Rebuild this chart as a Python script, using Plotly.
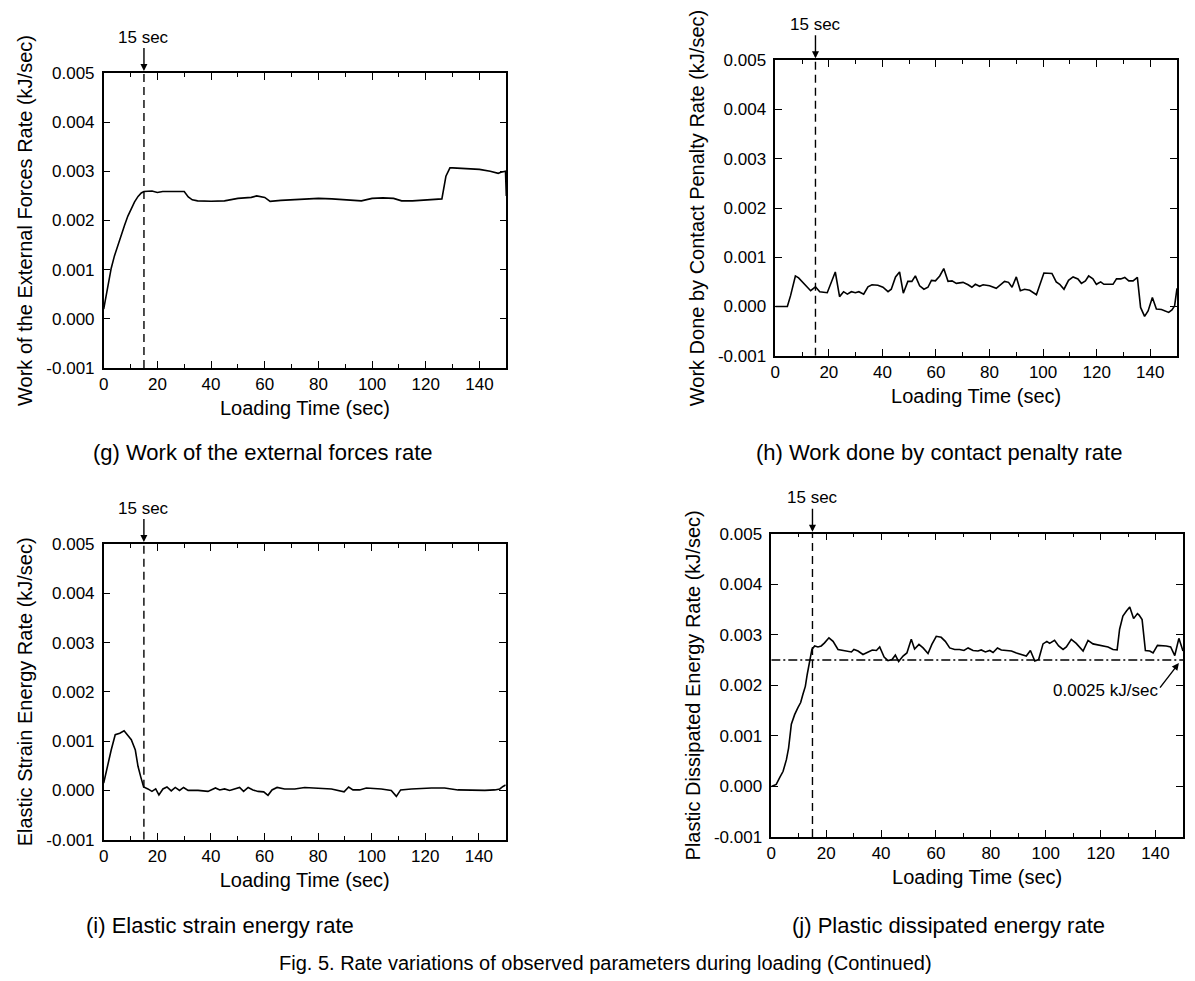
import plotly.graph_objects as go

# ---------------- data ----------------
t_g = [0, 1, 2.8, 4, 5.3, 6.5, 7.8, 9, 10.3, 11.5, 12.8, 14, 15, 18, 20, 22, 26, 30,
       31.5, 33, 35, 40, 45, 50, 55, 57, 60, 62, 66, 70, 75, 80, 85, 90, 96, 100,
       104, 108, 110, 111, 115, 120, 126, 127.5, 129, 130, 135, 140, 144, 147, 148,
       149.3, 149.7, 150]
rate_g = [0.0002, 0.0005, 0.00103, 0.00128, 0.00151, 0.00172, 0.00191, 0.00209,
          0.00225, 0.00238, 0.00249, 0.00256, 0.00259, 0.0026, 0.00257, 0.00259,
          0.00259, 0.00259, 0.00248, 0.00242, 0.0024, 0.00239, 0.0024, 0.00245,
          0.00247, 0.0025, 0.00247, 0.00239, 0.00241, 0.00242, 0.00243, 0.00245,
          0.00244, 0.00242, 0.0024, 0.00245, 0.00246, 0.00245, 0.00242, 0.0024,
          0.0024, 0.00242, 0.00244, 0.0029, 0.00307, 0.00307, 0.00306, 0.00304,
          0.003, 0.00296, 0.00298, 0.003, 0.003, 0.0025]

t_h = [0, 4.5, 5.7, 7.5, 8.7, 11, 13.2, 15, 16.6, 19.4, 21, 22.4, 24, 25.5, 26.9,
       28.4, 29.9, 31.2, 33, 34.6, 36.1, 38.3, 40.2, 42.1, 43.3, 44.9, 46.4, 47.8,
       49.5, 51, 52.3, 53.9, 55.5, 57, 58.3, 59.8, 61.4, 62.9, 64.5, 66, 67.6, 70.1,
       72, 73.4, 74.7, 76.3, 77.6, 80, 82.5, 85.6, 87.1, 88.4, 90, 91.5, 93.1, 95,
       97.5, 98.7, 100.3, 103.3, 104.9, 106.2, 107.8, 109.5, 111.2, 113, 114.3,
       115.8, 117, 118.6, 119.9, 121.5, 122.7, 126.1, 127.4, 129, 130.5, 132, 133.6,
       135.2, 136.4, 137.9, 139.2, 140.8, 142.3, 144.2, 146.9, 148.1, 149.1, 150]
rate_h = [0.0, 0.0, 0.00022, 0.00062, 0.00058, 0.00045, 0.00032, 0.0004, 0.0003,
          0.00028, 0.00052, 0.0007, 0.0002, 0.0003, 0.00025, 0.0003, 0.00028, 0.0003,
          0.00025, 0.0004, 0.00044, 0.00043, 0.00039, 0.0003, 0.00035, 0.0006, 0.0007,
          0.00027, 0.00051, 0.00051, 0.00062, 0.00042, 0.00035, 0.00039, 0.00053,
          0.00052, 0.00062, 0.00077, 0.00051, 0.00052, 0.00047, 0.00049, 0.00044,
          0.00039, 0.00045, 0.00041, 0.00044, 0.00042, 0.00037, 0.00051, 0.00049,
          0.00039, 0.0006, 0.00032, 0.00035, 0.00033, 0.00024, 0.00045, 0.00068,
          0.00067, 0.0005, 0.00045, 0.00035, 0.00053, 0.0006, 0.00056, 0.00047,
          0.00052, 0.00062, 0.00056, 0.00045, 0.0005, 0.00045, 0.00045, 0.00056,
          0.00056, 0.00059, 0.00052, 0.00052, 0.00059, -0.00002, -0.0002, -0.00009,
          0.00018, -0.00005, -0.00006, -0.00012, -0.00007, 0.00001, 0.00037]

t_i = [0, 1.6, 2.8, 4.3, 6, 7.6, 9.1, 10.3, 11.8, 12.8, 13.8, 14.9, 16.5, 18, 19.4,
       20.6, 22.1, 23.6, 25.2, 26.7, 28.3, 29.8, 31.5, 35.2, 38.9, 41.7, 43.3, 45.1,
       47, 48.9, 50.7, 52.2, 53.9, 55.7, 57.6, 59.7, 61.3, 62.8, 64.7, 67.5, 71.3,
       75, 80, 85, 89.7, 91.4, 93, 95.5, 98, 103.6, 107.3, 109.2, 110.8, 114.8,
       122.3, 127.2, 132.2, 137.2, 142.2, 145.9, 147.8, 149, 150]
rate_i = [0.00015, 0.00055, 0.00082, 0.00113, 0.00116, 0.00121, 0.00111, 0.00103,
          0.00082, 0.00049, 0.00028, 0.00007, 0.00003, -0.00002, 0.00003, -0.00009,
          0.00003, 0.00007, -0.00001, 0.00006, 0.0, 0.00006, 0.0, 0.0, -0.00002,
          0.00005, 0.00001, 0.00003, 0.0, 0.00003, 0.00006, -0.00002, 0.00006,
          0.00001, -0.00002, -0.00003, -0.0001, 0.00001, 0.00006, 0.00003, 0.00003,
          0.00006, 0.00005, 0.00003, -0.00003, 0.00007, 0.00001, 0.00001, 0.00005,
          0.00003, 0.0, -0.00012, 0.00001, 0.00003, 0.00005, 0.00005, 0.00001, 0.0,
          0.0, 0.00001, 0.00003, 0.00008, 0.00011]

t_j = [0, 1.8, 3, 4.3, 5.5, 6.3, 7.3, 8.5, 9.7, 10.7, 11.5, 12.4, 13.1, 14, 14.8,
       15.8, 17, 18.2, 19.4, 21, 22.5, 24.3, 26.1, 27.9, 29.2, 30.1, 31.6, 33.4,
       35.2, 36.8, 38.3, 39.5, 41.1, 42.5, 44, 45.2, 46.4, 48, 49.4, 51, 52.2, 53.8,
       55.3, 57.1, 58.5, 60.1, 61.9, 63.4, 65, 66.8, 68.6, 70.2, 71.7, 73.5, 75.3,
       76.5, 78, 79.6, 80.8, 82.4, 83.8, 85.6, 87.5, 89.3, 91.1, 92.9, 94.4, 96,
       97.4, 99, 100.4, 101.4, 103.2, 104.7, 106.3, 107.5, 109.3, 111.1, 113.6,
       115.4, 117.2, 120.9, 122.7, 124.5, 126, 126.9, 128.1, 129.4, 130.6, 132,
       133.4, 134, 135.1, 136.3, 137.9, 139.1, 140.7, 143.9, 145.5, 147, 148.5, 150]
rate_j = [0.0, 0.00004, 0.00017, 0.0003, 0.00053, 0.00076, 0.00123, 0.00142, 0.00156,
          0.00166, 0.00182, 0.00198, 0.00222, 0.00249, 0.00271, 0.00278, 0.00276,
          0.00278, 0.00284, 0.00294, 0.00287, 0.00271, 0.00269, 0.00268, 0.00266,
          0.00271, 0.00268, 0.00261, 0.00266, 0.0027, 0.00269, 0.00276, 0.00256,
          0.00249, 0.00251, 0.0026, 0.00247, 0.00258, 0.00264, 0.00291, 0.00272,
          0.00281, 0.00274, 0.00263, 0.00281, 0.00297, 0.00295, 0.00287, 0.00274,
          0.00271, 0.00271, 0.00269, 0.00274, 0.00269, 0.00268, 0.0027, 0.00266,
          0.00269, 0.00265, 0.00274, 0.0027, 0.00269, 0.00268, 0.00264, 0.00261,
          0.00258, 0.00269, 0.00248, 0.00251, 0.00282, 0.00287, 0.00283, 0.00289,
          0.00278, 0.00271, 0.00276, 0.00291, 0.00283, 0.00268, 0.00289, 0.00282,
          0.00278, 0.00276, 0.00271, 0.0027, 0.00311, 0.00337, 0.00347, 0.00355,
          0.00332, 0.00342, 0.00339, 0.0033, 0.00269, 0.00268, 0.00264, 0.00279,
          0.00278, 0.00276, 0.00259, 0.00293, 0.00268]

x_ticks = [0, 20, 40, 60, 80, 100, 120, 140]
y_ticks = [-0.001, 0.0, 0.001, 0.002, 0.003, 0.004, 0.005]
y_tick_text = ["-0.001", "0.000", "0.001", "0.002", "0.003", "0.004", "0.005"]
marker_time = 15
threshold = 0.0025

y_titles = ["Work of the External Forces Rate (kJ/sec)",
            "Work Done by Contact Penalty Rate (kJ/sec)",
            "Elastic Strain Energy Rate (kJ/sec)",
            "Plastic Dissipated Energy Rate (kJ/sec)"]
captions = ["(g) Work of the external forces rate",
            "(h) Work done by contact penalty rate",
            "(i) Elastic strain energy rate",
            "(j) Plastic dissipated energy rate"]
fig_caption = "Fig. 5. Rate variations of observed parameters during loading (Continued)"

# ---------------- layout geometry ----------------
W, H = 1195, 981
FONT = "Liberation Sans, Arial, sans-serif"

def fx(p):
    return p / W

def fy(p):
    return 1 - p / H

# pixel boxes: (left, right, top, bottom)
boxes = [(95.7, 498.3, 65, 360),
         (767.3, 1169, 52.3, 347.7),
         (95.7, 497.7, 536, 831.7),
         (763.3, 1175, 525.7, 829)]
series = [(t_g, rate_g), (t_h, rate_h), (t_i, rate_i), (t_j, rate_j)]

fig = go.Figure()
layout = dict(width=W, height=H, margin=dict(l=0, r=0, t=0, b=0, autoexpand=False),
              paper_bgcolor="white", plot_bgcolor="white", showlegend=False,
              font=dict(family=FONT, color="black"))
annotations = []

for k, ((l, r, t, b), (xs, ys)) in enumerate(zip(boxes, series)):
    n = "" if k == 0 else str(k + 1)
    xa, ya = "x" + n, "y" + n
    fig.add_trace(go.Scatter(x=xs, y=ys, mode="lines", xaxis=xa, yaxis=ya,
                             line=dict(color="black", width=1.6), hoverinfo="skip"))
    fig.add_trace(go.Scatter(x=[marker_time, marker_time], y=[y_ticks[0], y_ticks[-1]],
                             mode="lines", xaxis=xa, yaxis=ya,
                             line=dict(color="black", width=1.4, dash="8px,5px"),
                             hoverinfo="skip"))
    axis_common = dict(showline=True, linecolor="black", linewidth=1.5,
                       mirror="allticks", ticks="inside", tickcolor="black",
                       tickwidth=1.3, showgrid=False, zeroline=False, automargin=False,
                       tickfont=dict(family=FONT, size=17, color="black"))
    layout["xaxis" + n] = dict(axis_common, domain=[fx(l), fx(r)], anchor=ya,
                               range=[0, 150], tickvals=x_ticks, ticklen=7,
                               minor=dict(ticks="inside", tickvals=[10, 30, 50, 70, 90, 110, 130],
                                          ticklen=4, tickcolor="black", tickwidth=1.3),
                               title=dict(text="Loading Time (sec)",
                                          font=dict(family=FONT, size=20), standoff=8))
    layout["yaxis" + n] = dict(axis_common, domain=[fy(b), fy(t)], anchor=xa,
                               range=[y_ticks[0], y_ticks[-1]], tickvals=y_ticks,
                               ticktext=y_tick_text, ticklen=7, ticklabelstandoff=4,
                               title=dict(text=y_titles[k],
                                          font=dict(family=FONT, size=20), standoff=8))
    annotations.append(dict(x=marker_time, y=y_ticks[-1], xref=xa, yref=ya,
                            text="15 sec", showarrow=True, ax=0, ay=-36,
                            arrowhead=2, arrowsize=1, arrowwidth=1.4, arrowcolor="black",
                            standoff=2, font=dict(family=FONT, size=17, color="black")))

# threshold line in panel (j)
fig.add_trace(go.Scatter(x=[0, 150], y=[threshold, threshold], mode="lines",
                         xaxis="x4", yaxis="y4",
                         line=dict(color="black", width=1.4, dash="9px,3px,2px,3px"),
                         hoverinfo="skip"))
annotations.append(dict(x=148.5, y=0.00244, xref="x4", yref="y4", text="",
                        showarrow=True, ax=-20, ay=26, arrowhead=2, arrowsize=1,
                        arrowwidth=1.4, arrowcolor="black"))
annotations.append(dict(x=121.8, y=0.00189, xref="x4", yref="y4", text="0.0025 kJ/sec",
                        showarrow=False, font=dict(family=FONT, size=17, color="black")))

# captions
cap_pos = [(255, 445), (931, 445), (212, 917), (940, 917)]
for (cx, cy), txt in zip(cap_pos, captions):
    annotations.append(dict(x=fx(cx), y=fy(cy), xref="paper", yref="paper", text=txt,
                            showarrow=False, xanchor="center", yanchor="middle",
                            font=dict(family=FONT, size=22, color="black")))
annotations.append(dict(x=fx(597), y=fy(955), xref="paper", yref="paper", text=fig_caption,
                        showarrow=False, xanchor="center", yanchor="middle",
                        font=dict(family=FONT, size=20, color="black")))

layout["annotations"] = annotations
fig.update_layout(**layout)
fig.write_html("out.html")
